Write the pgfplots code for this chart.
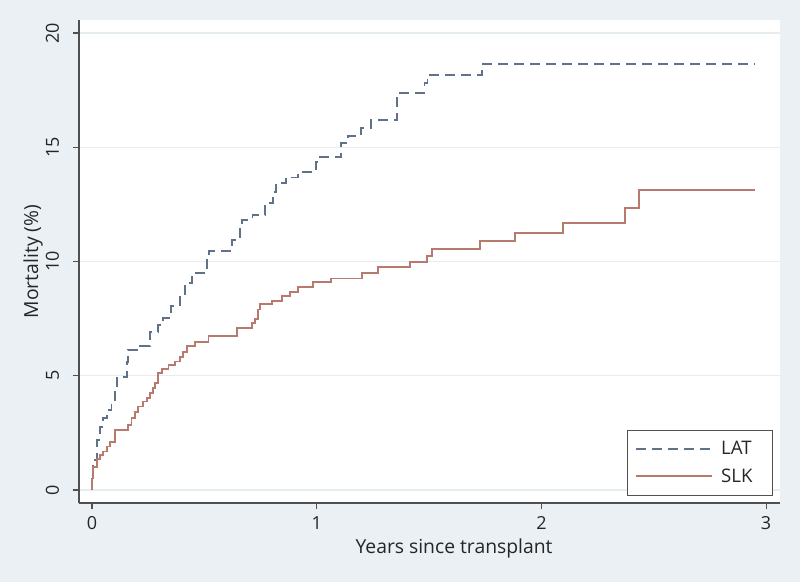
\documentclass[border=0pt]{standalone}
\usepackage{pgfplots}
\pgfplotsset{compat=1.18}
\usepackage{fontspec}
\setmainfont{Open Sans}
\definecolor{bgc}{RGB}{234,240,244}
\definecolor{gridc}{RGB}{230,237,241}
\definecolor{latc}{RGB}{96,114,138}
\definecolor{slkc}{RGB}{184,122,110}
\definecolor{axc}{RGB}{80,80,80}
\begin{document}
\begin{tikzpicture}
\fill[bgc] (0,0) rectangle (600pt,436.5pt);
\begin{axis}[
  at={(59.25pt,59.25pt)}, anchor=south west,
  scale only axis, width=525.75pt, height=362.25pt,
  xmin=-0.058, xmax=3.062, ymin=-0.57, ymax=20.57,
  axis background/.style={fill=white},
  axis x line*=bottom, axis y line*=left,
  axis line style={axc, line width=0.8pt, -},
  xtick={0,1,2,3}, ytick={0,5,10,15,20},
  tick align=outside, major tick length=4.5pt,
  tick style={axc, line width=0.8pt},
  ymajorgrids, grid style={gridc, line width=0.8pt},
  /pgf/number format/assume math mode=true,
  ticklabel style={font=\fontsize{13.5}{13.5}\selectfont, text=black!85},
  yticklabel style={rotate=90, anchor=south},
  yticklabel shift=7pt, xticklabel shift=2pt,
  xlabel={Years since transplant},
  ylabel={Mortality (\%)},
  label style={font=\fontsize{14.5}{14.5}\selectfont, text=black!85},
  xlabel style={at={(axis description cs:0.535,-0.095)}, anchor=center},
  ylabel style={at={(axis description cs:-0.0656,0.5)}, anchor=center},
  legend style={at={(rel axis cs:0.990,0.0145)}, anchor=south east,
    draw=axc, fill=white, line width=0.6pt, font=\fontsize{14}{14}\selectfont,
    inner xsep=5pt, inner ysep=6.5pt, row sep=5pt, text=black!85,
    /tikz/every odd column/.append style={column sep=4.5pt}},
  legend cell align=left,
  legend image code/.code={\draw[#1, line width=1.5pt] (0pt,0.3pt) -- (57pt,0.3pt);},
]
\addplot[latc, line width=1.35pt, dash pattern=on 7.5pt off 4.5pt, const plot] coordinates {
(0,0) (0.000,0.6) (0.004,1.31) (0.021,2.19) (0.036,2.77) (0.050,3.14) (0.065,3.50)
(0.087,3.94) (0.102,4.52) (0.110,4.96) (0.155,5.61) (0.160,6.13) (0.214,6.30)
(0.258,6.93) (0.295,7.22) (0.316,7.51) (0.352,8.05) (0.392,8.53) (0.414,9.05)
(0.445,9.51) (0.510,10.07) (0.521,10.47) (0.622,10.94) (0.659,11.52) (0.666,11.82)
(0.714,12.04) (0.770,12.56) (0.806,13.05) (0.819,13.43) (0.863,13.68) (0.915,13.93)
(0.997,14.37) (1.015,14.56) (1.108,15.17) (1.139,15.49) (1.197,15.83) (1.242,16.19)
(1.357,17.29) (1.371,17.36) (1.480,17.80) (1.493,18.16) (1.736,18.63) (2.950,18.63)
};
\addlegendentry{LAT\kern8pt}
\addplot[slkc, line width=1.35pt, const plot] coordinates {
(0,0) (0.000,0.5) (0.006,1.02) (0.021,1.34) (0.036,1.53) (0.050,1.68) (0.065,1.90)
(0.080,2.11) (0.102,2.63) (0.161,2.85) (0.176,3.14) (0.191,3.43) (0.205,3.65)
(0.227,3.87) (0.243,4.01) (0.258,4.23) (0.273,4.45) (0.280,4.67) (0.295,5.11)
(0.313,5.28) (0.340,5.47) (0.369,5.62) (0.392,5.83) (0.406,6.05) (0.421,6.30)
(0.460,6.49) (0.518,6.74) (0.644,7.10) (0.711,7.30) (0.725,7.50) (0.740,7.90)
(0.748,8.14) (0.802,8.28) (0.844,8.49) (0.881,8.68) (0.918,8.87) (0.985,9.10)
(1.064,9.26) (1.200,9.51) (1.274,9.75) (1.415,9.99) (1.490,10.24) (1.512,10.53)
(1.727,10.88) (1.883,11.26) (2.097,11.68) (2.373,12.34) (2.434,13.13) (2.950,13.13)
};
\addlegendentry{SLK\kern8pt}
\end{axis}
\end{tikzpicture}
\end{document}
